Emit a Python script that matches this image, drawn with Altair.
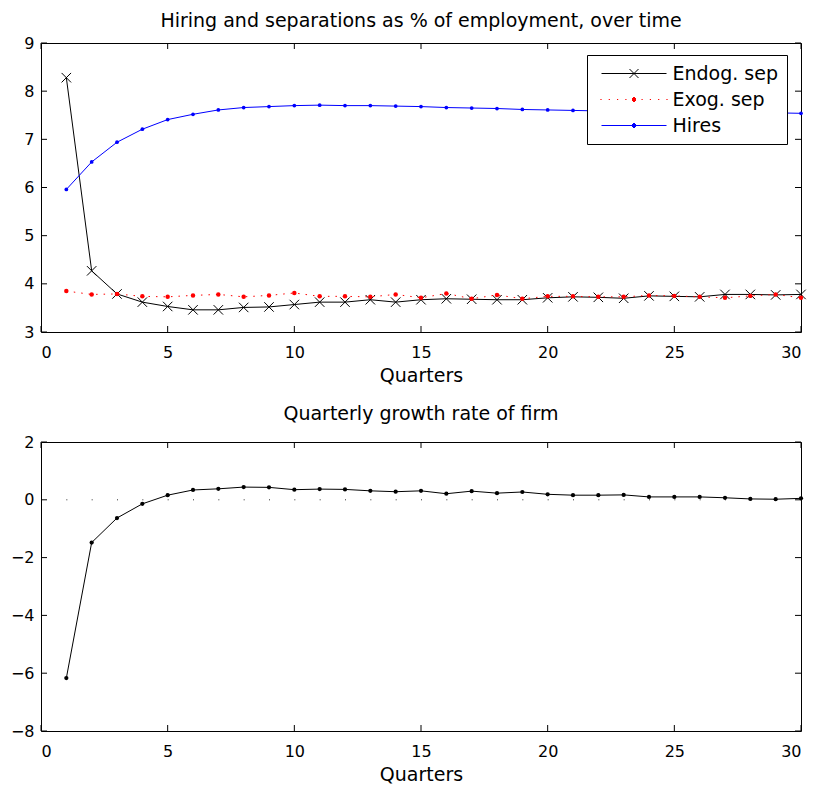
import altair as alt
import pandas as pd

FONT = "DejaVu Sans"
W, H = 760, 289

quarters = list(range(1, 31))
endog_sep = [8.28, 4.27, 3.79, 3.62, 3.53, 3.46, 3.46, 3.51, 3.52, 3.57,
             3.62, 3.62, 3.67, 3.62, 3.67, 3.69, 3.68, 3.67, 3.67, 3.71,
             3.73, 3.72, 3.70, 3.75, 3.74, 3.73, 3.78, 3.78, 3.77, 3.78]
exog_sep = [3.85, 3.78, 3.79, 3.74, 3.73, 3.76, 3.78, 3.73, 3.76, 3.81,
            3.74, 3.74, 3.73, 3.78, 3.71, 3.80, 3.69, 3.77, 3.69, 3.74,
            3.74, 3.73, 3.73, 3.76, 3.75, 3.73, 3.71, 3.75, 3.78, 3.71]
hires = [5.96, 6.53, 6.94, 7.21, 7.41, 7.52, 7.61, 7.66, 7.68, 7.70,
         7.71, 7.70, 7.70, 7.69, 7.68, 7.66, 7.65, 7.64, 7.62, 7.61,
         7.60, 7.59, 7.58, 7.57, 7.57, 7.56, 7.56, 7.55, 7.55, 7.54]
growth = [-6.17, -1.48, -0.63, -0.14, 0.16, 0.34, 0.38, 0.44, 0.43, 0.35,
          0.37, 0.36, 0.31, 0.28, 0.31, 0.21, 0.30, 0.23, 0.27, 0.19,
          0.16, 0.16, 0.17, 0.10, 0.10, 0.10, 0.07, 0.03, 0.02, 0.05]

series_names = ["Endog. sep", "Exog. sep", "Hires"]
series_colors = ["black", "#ff0000", "#0000ff"]
zero_ref = {"x": [1], "x2": [30], "y": [0]}

x_ticks = [0, 5, 10, 15, 20, 25, 30]
y_top_ticks = [3, 4, 5, 6, 7, 8, 9]
y_bot_ticks = [-8, -6, -4, -2, 0, 2]

XPATH = "M-1,-1L1,1M-1,1L1,-1"
# legend symbols (1 unit = 10 px at size 400)
DOT = "M-0.1,-0.2H0.1M-0.2,-0.1H0.2M-0.2,0H0.2M-0.2,0.1H0.2M-0.1,0.2H0.1"
LEG_ENDOG = "M-3.25,0H3.25M-0.45,-0.45L0.45,0.45M-0.45,0.45L0.45,-0.45"
LEG_EXOG = ("M-3.36,0H-3.24M-2.53,0H-2.41M-1.7,0H-1.58M-0.87,0H-0.75"
            "M0.75,0H0.87M1.58,0H1.7M2.41,0H2.53M3.24,0H3.36" + DOT)
LEG_HIRES = "M-3.25,0H3.25" + DOT

def sdf(vals, name):
    return pd.DataFrame({"x": quarters, "y": vals, "series": name})

top_df = pd.concat([sdf(endog_sep, series_names[0]), sdf(exog_sep, series_names[1]),
                    sdf(hires, series_names[2])], ignore_index=True)
grow_df = pd.DataFrame({"x": quarters, "y": growth})

X = alt.X("x:Q", scale=alt.Scale(domain=[0, 30], nice=False, zero=False),
          axis=alt.Axis(values=x_ticks, title="Quarters", format="d"))

def Yenc(dom, ticks):
    return alt.Y("y:Q", scale=alt.Scale(domain=dom, nice=False, zero=False),
                 axis=alt.Axis(values=ticks, title=None, format="d"))

def tick_layers(Y, yticks):
    xt = pd.DataFrame({"x": x_ticks})
    yt = pd.DataFrame({"y": yticks})
    r = alt.Chart(xt).mark_rule(color="black", strokeWidth=1)
    q = alt.Chart(yt).mark_rule(color="black", strokeWidth=1)
    return [
        r.encode(x=X, y=alt.value(H), y2=alt.value(H - 6)),
        r.encode(x=X, y=alt.value(0), y2=alt.value(6)),
        q.encode(y=Y, x=alt.value(0), x2=alt.value(6)),
        q.encode(y=Y, x=alt.value(W), x2=alt.value(W - 6)),
    ]

Yt = Yenc([3, 9], y_top_ticks)
base = alt.Chart(top_df)

def sel(name):
    return base.transform_filter(alt.datum.series == name)

legend = alt.Legend(orient="none", legendX=546, legendY=12, title=None,
                    direction="vertical", fillColor="white", strokeColor="black",
                    padding=8, cornerRadius=0, symbolSize=400, symbolStrokeWidth=1,
                    symbolOffset=28.5, labelOffset=28, labelFont=FONT,
                    labelFontSize=19, labelColor="black", rowPadding=5)

top_layers = [
    sel(series_names[0]).mark_line(color="black", strokeWidth=1).encode(x=X, y=Yt),
    sel(series_names[0]).mark_point(shape=XPATH, filled=False, size=90, color="black",
                                    strokeWidth=1, opacity=1).encode(x=X, y=Yt),
    sel(series_names[1]).mark_line(color="#ff0000", strokeWidth=1,
                                   strokeDash=[1.5, 6]).encode(x=X, y=Yt),
    sel(series_names[1]).mark_circle(color="#ff0000", size=20, opacity=1).encode(x=X, y=Yt),
    sel(series_names[2]).mark_line(color="#0000ff", strokeWidth=1).encode(x=X, y=Yt),
    sel(series_names[2]).mark_circle(color="#0000ff", size=14, opacity=1).encode(x=X, y=Yt),
    base.transform_filter("false").mark_point(filled=False, size=400, strokeWidth=1,
                                              opacity=1).encode(
        x=X, y=Yt,
        color=alt.Color("series:N", scale=alt.Scale(domain=series_names, range=series_colors),
                        legend=legend),
        shape=alt.Shape("series:N", scale=alt.Scale(domain=series_names,
                                                    range=[LEG_ENDOG, LEG_EXOG, LEG_HIRES]),
                        legend=legend),
    ),
] + tick_layers(Yt, y_top_ticks)

top = alt.layer(*top_layers).properties(
    width=W, height=H,
    title=alt.TitleParams("Hiring and separations as % of employment, over time",
                          font=FONT, fontSize=19, fontWeight="normal", color="black",
                          offset=4),
)

Yb = Yenc([-8, 2], y_bot_ticks)
gbase = alt.Chart(grow_df)
bot_layers = [
    alt.Chart(pd.DataFrame(zero_ref)).mark_rule(color="#333333", strokeWidth=1,
                                                strokeDash=[1, W / 30 - 1]).encode(
        x=X, x2="x2:Q", y=Yb),
    gbase.mark_line(color="black", strokeWidth=1).encode(x=X, y=Yb),
    gbase.mark_circle(color="black", size=18, opacity=1).encode(x=X, y=Yb),
] + tick_layers(Yb, y_bot_ticks)

bot = alt.layer(*bot_layers).properties(
    width=W, height=H,
    title=alt.TitleParams("Quarterly growth rate of firm", font=FONT, fontSize=19,
                          fontWeight="normal", color="black", offset=10),
)

chart = alt.vconcat(top, bot, spacing=18,
                    padding={"left": 0, "top": 3, "right": 0, "bottom": 0}).configure_view(
    stroke="black", strokeWidth=1
).configure_axis(
    grid=False, ticks=False, tickSize=0, domain=False,
    labelFont=FONT, labelFontSize=16, labelColor="black",
    titleFont=FONT, titleFontSize=19, titleFontWeight="normal", titleColor="black",
).configure_axisX(labelPadding=12, titlePadding=6).configure_axisY(
    labelPadding=7, minExtent=32
)

chart.save("out.html", embed_options={"renderer": "svg", "actions": False})
